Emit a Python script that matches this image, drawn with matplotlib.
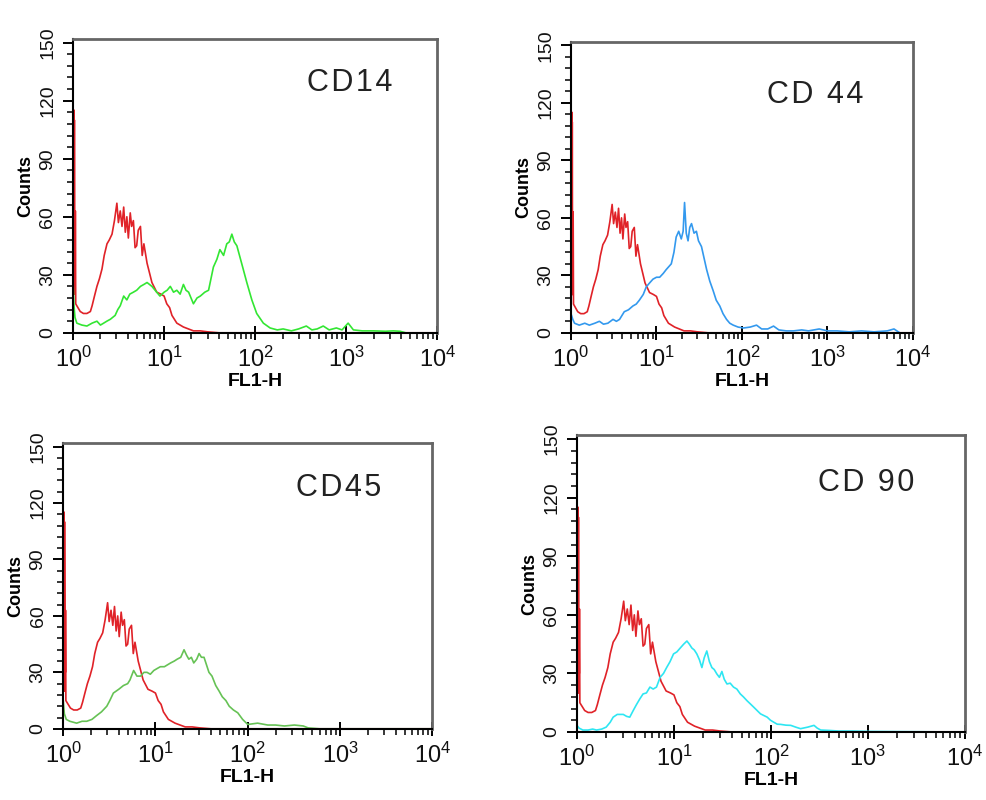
import matplotlib.pyplot as plt
import numpy as np
from matplotlib.ticker import MultipleLocator, LogLocator, NullFormatter

# isotype control (red), same in every panel: (FL1-H, counts)
control = [(1.015, 115), (1.02, 20), (1.025, 115), (1.03, 40), (1.035, 110), (1.04, 63),
           (1.045, 20), (1.05, 63), (1.055, 30), (1.06, 63), (1.07, 15), (1.1, 14), (1.2, 11),
           (1.3, 10), (1.42, 10), (1.55, 11), (1.62, 14), (1.72, 19), (1.83, 24), (1.95, 28),
           (2.08, 33), (2.2, 40), (2.36, 46), (2.5, 48), (2.68, 51), (2.85, 58), (3.03, 67),
           (3.15, 57), (3.3, 63), (3.45, 55), (3.6, 65), (3.75, 52), (3.9, 60), (4.05, 49),
           (4.25, 62), (4.4, 55), (4.6, 58), (4.8, 44), (5.0, 45), (5.2, 53), (5.5, 55),
           (5.75, 40), (6.0, 46), (6.5, 36), (7.0, 30), (7.35, 26), (8.3, 21), (9.2, 20),
           (10, 19), (10.7, 15), (11.5, 13), (12.2, 9), (13.8, 5), (16.3, 3), (18.5, 2),
           (21, 1), (25, 1), (30, 0.5), (40, 0), (100, 0), (10000, 0)]

cd14 = [(1.0, 27), (1.02, 15), (1.05, 8), (1.1, 5), (1.25, 4), (1.42, 3.5), (1.62, 5), (1.83, 6),
        (2.0, 4), (2.17, 5), (2.35, 6), (2.57, 7), (2.9, 9), (3.1, 12), (3.3, 14), (3.6, 19),
        (3.9, 17), (4.2, 20), (4.6, 21), (5.0, 22), (5.5, 24), (6.0, 25), (6.5, 26), (7.35, 24),
        (8.3, 21), (9.0, 19), (10, 21), (10.8, 22), (11.7, 24), (12.7, 21), (13.8, 22), (15, 20),
        (16.3, 25), (17.4, 22), (18.6, 21), (21, 15), (23, 18), (25, 19), (28, 21), (30.8, 22),
        (34.8, 34), (38, 38), (41, 43), (45, 40), (48.8, 46), (52, 47), (55.5, 51), (59, 47),
        (63, 45), (71, 36), (81, 26), (92, 17), (104, 10), (123, 5), (146, 2.5), (175, 1.5),
        (203, 2), (250, 1), (300, 2), (365, 3.5), (420, 1.5), (480, 2), (560, 3.5), (650, 1.5),
        (780, 2.5), (900, 1.5), (1050, 5), (1200, 1.5), (1500, 1), (2000, 1), (2700, 0.8),
        (3300, 1), (3900, 0.8), (4500, 0)]

cd44 = [(1.0, 10), (1.05, 7), (1.1, 5), (1.25, 4), (1.45, 5), (1.64, 4), (1.9, 5), (2.15, 6),
        (2.4, 4.5), (2.7, 5), (3.1, 7), (3.4, 6), (3.7, 7), (4.2, 11), (4.7, 12), (5.3, 14),
        (5.8, 15), (6.3, 17), (7.0, 20), (7.6, 24), (8.3, 26), (9.1, 28), (10, 29), (10.9, 29),
        (12, 31), (13, 33), (14.9, 36), (16, 42), (17, 50), (18.2, 53), (19.5, 49), (20.5, 53),
        (21.3, 68), (22.3, 52), (23.4, 48), (24.5, 55), (25.7, 57), (27.5, 52), (29.3, 53),
        (31, 48), (33.6, 45), (38.6, 33), (42, 27), (46, 22), (50, 17), (55, 14), (60, 10),
        (66, 7), (72, 5), (79, 4), (90, 3), (104, 2.5), (125, 3), (148, 4), (170, 2), (200, 2),
        (234, 3.5), (270, 1.5), (330, 1), (400, 1), (500, 1.5), (600, 1), (800, 2), (1000, 1),
        (1300, 1), (1800, 0.5), (2500, 1), (3500, 0.5), (5000, 1), (6000, 2), (7000, 0)]

cd45 = [(1.0, 15.5), (1.03, 8), (1.08, 5), (1.18, 4), (1.4, 3), (1.6, 4), (1.8, 4), (2.05, 5),
        (2.3, 7), (2.6, 9), (2.97, 12), (3.2, 15), (3.5, 19), (4.0, 21), (4.5, 23), (5.0, 24),
        (5.3, 26), (5.8, 31), (6.3, 28), (6.9, 28), (7.5, 30), (8.1, 30), (8.8, 29), (9.6, 31),
        (10.4, 32), (11.3, 33), (12.5, 33), (14.6, 35), (16, 36), (17.2, 37), (18.8, 38),
        (20.4, 42), (21.8, 39), (23, 37), (24.5, 38), (26, 35), (28, 37), (29.7, 40), (31.5, 38),
        (33.6, 38), (38, 30), (41, 28), (45, 23), (49, 20), (53, 17), (58, 15), (63, 12),
        (70, 10), (78, 8.5), (88, 5), (100, 2.3), (128, 3), (165, 2), (200, 2), (250, 1.5),
        (320, 2), (400, 1.5), (450, 0.5), (600, 0), (10000, 0)]

cd90 = [(1.0, 3.4), (1.05, 2), (1.15, 1), (1.3, 1), (1.45, 1.5), (1.59, 1), (1.8, 1.5), (2.0, 2.5),
        (2.2, 5), (2.36, 7.6), (2.6, 9), (3.0, 9), (3.25, 8), (3.5, 7.6), (3.8, 11), (4.1, 14),
        (4.45, 17), (4.8, 19.5), (5.2, 20), (5.65, 23), (6.1, 22), (6.6, 23), (7.2, 28), (7.8, 30),
        (8.4, 33), (9.1, 36), (9.9, 40), (10.7, 41), (11.6, 43), (12.6, 45), (13.6, 46.6),
        (14.4, 45), (15.3, 43), (16.2, 42), (17.2, 40), (18.3, 37), (19.4, 33), (20.5, 38),
        (21.8, 41.5), (23.2, 36), (24.6, 33), (26, 32), (27.7, 29.7), (29.4, 28), (31.2, 31),
        (33, 27), (35.2, 24.6), (38, 25), (41.1, 23), (44.5, 22), (48.3, 19.5), (52, 18),
        (56.7, 16), (61, 14.5), (66.5, 12.7), (72, 11), (78, 9.3), (84, 8.5), (91.5, 7.6),
        (99, 6), (107, 5), (116, 4), (126, 3.9), (143, 3.5), (160, 3.4), (180, 2.5), (202, 1.7),
        (240, 2.5), (278, 3.4), (300, 2), (326, 1), (400, 0.8), (500, 0.5), (700, 0.5),
        (1000, 0.3), (2000, 0.2), (10000, 0)]

markers = ["CD14", "CD 44", "CD45", "CD 90"]
samples = [cd14, cd44, cd45, cd90]
colors = ["#33e633", "#3399ee", "#66c255", "#2ee6f2"]

# axes rectangles in figure fraction, and where the marker name sits
rects = [[0.074, 0.584, 0.369, 0.3675], [0.5785, 0.584, 0.3465, 0.364],
         [0.064, 0.089, 0.374, 0.3575], [0.5846, 0.085, 0.393, 0.371]]
name_pos = [(0.76, 0.85), (0.713, 0.818), (0.745, 0.843), (0.745, 0.838)]

tick_font = ["Liberation Sans", "DejaVu Sans"]

fig = plt.figure(figsize=(9.87, 8.0), dpi=100)

for rect, name, pos, data, col in zip(rects, markers, name_pos, samples, colors):
    ax = fig.add_axes(rect)
    cx, cy = np.array(control).T
    sx, sy = np.array(data).T
    ax.plot(cx, cy, color="#e02228", lw=1.2)
    ax.plot(sx, sy, color=col, lw=1.2)

    ax.set_xscale("log")
    ax.set_xlim(1, 1e4)
    ax.set_ylim(0, 152)
    ax.yaxis.set_major_locator(MultipleLocator(30))
    ax.yaxis.set_minor_locator(MultipleLocator(6))
    ax.xaxis.set_major_locator(LogLocator(base=10, numticks=10))
    ax.xaxis.set_minor_locator(LogLocator(base=10, subs=np.arange(2, 10), numticks=10))
    ax.xaxis.set_minor_formatter(NullFormatter())

    ax.tick_params(axis="y", which="major", direction="out", length=7, width=1.4, pad=5)
    ax.tick_params(axis="y", which="minor", direction="out", length=4, width=1.1)
    ax.tick_params(axis="x", which="major", direction="inout", length=10, width=1.4, pad=5)
    ax.tick_params(axis="x", which="minor", direction="out", length=4, width=1.1)
    ax.tick_params(top=False, right=False)

    for lab in ax.get_yticklabels():
        lab.set_rotation(90)
        lab.set_va("center")
        lab.set_family(tick_font)
        lab.set_fontsize(14)
        lab.set_color("#111111")
    for lab in ax.get_xticklabels():
        lab.set_family(tick_font)
        lab.set_fontsize(17)
        lab.set_color("#111111")

    for side in ["left", "bottom"]:
        ax.spines[side].set_color("black")
        ax.spines[side].set_linewidth(1.5)
    for side in ["top", "right"]:
        ax.spines[side].set_color("#666666")
        ax.spines[side].set_linewidth(2)

    ax.set_ylabel("Counts", fontsize=13, fontweight="bold", family="Liberation Sans", labelpad=4)
    ax.set_xlabel("FL1-H", fontsize=14, fontweight="bold", family="Liberation Sans", labelpad=1)

    ax.text(pos[0], pos[1], "\u200a".join(name), transform=ax.transAxes,
            ha="center", va="center", fontsize=22, color="#222222",
            family=["Liberation Sans", "DejaVu Sans"])

fig.savefig("out.png", dpi=100)
